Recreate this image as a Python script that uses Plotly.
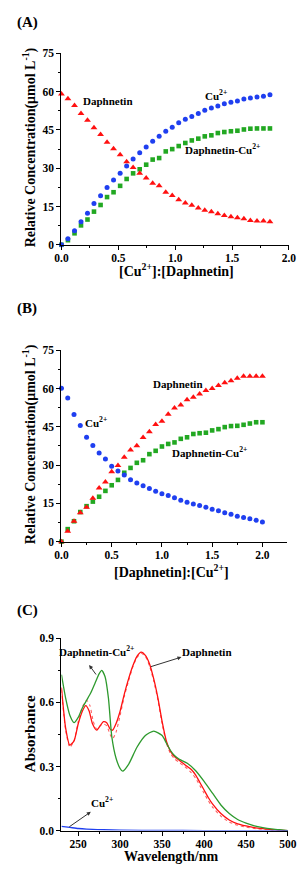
import plotly.graph_objects as go

FONT = "Liberation Serif"
W, H = 307, 873
OFF = 8  # default page (body) margin of the html page
BLUE = "#1f3ff0"
RED = "#ff1010"
GREEN = "#22a822"
LGREEN = "#2e9a2e"

# ---------------- Panel A : [Cu2+]:[Daphnetin] ----------------
ratio_a = [0.000, 0.057, 0.115, 0.172, 0.229, 0.286, 0.344, 0.401, 0.458, 0.516,
           0.573, 0.630, 0.688, 0.745, 0.802, 0.859, 0.917, 0.974, 1.031, 1.089,
           1.146, 1.203, 1.260, 1.318, 1.375, 1.432, 1.490, 1.547, 1.604, 1.661,
           1.719, 1.776, 1.833]
daph_a = [59.1, 57.2, 54.6, 51.5, 48.8, 45.9, 43.2, 40.2, 37.6, 35.3,
          32.5, 30.3, 28.0, 26.2, 24.1, 23.1, 20.6, 19.3, 17.7, 16.4,
          15.5, 14.4, 13.5, 12.9, 12.2, 11.5, 11.0, 10.6, 10.2, 9.5,
          9.3, 9.3, 9.0]
cu_a = [0.0, 2.4, 5.5, 9.0, 12.4, 16.2, 19.2, 22.5, 25.4, 28.0,
        30.9, 33.6, 36.1, 38.3, 40.6, 42.5, 44.5, 46.1, 47.8, 49.2,
        50.3, 51.5, 52.7, 53.6, 54.4, 55.3, 55.9, 56.4, 57.1, 57.5,
        57.9, 58.2, 58.8]
cplx_a = [0.0, 1.8, 4.5, 7.6, 9.9, 13.0, 15.6, 18.7, 20.6, 23.1,
          25.8, 28.0, 29.6, 31.4, 33.4, 34.0, 36.6, 37.5, 38.7, 39.9,
          40.9, 41.6, 42.5, 42.9, 43.8, 44.2, 44.5, 44.7, 45.2, 45.5,
          45.6, 45.6, 45.6]

# ---------------- Panel B : [Daphnetin]:[Cu2+] ----------------
ratio_b = [0.0000, 0.0625, 0.1250, 0.1875, 0.2500, 0.3125, 0.3750, 0.4375, 0.5000, 0.5625,
           0.6250, 0.6875, 0.7500, 0.8125, 0.8750, 0.9375, 1.0000, 1.0625, 1.1250, 1.1875,
           1.2500, 1.3125, 1.3750, 1.4375, 1.5000, 1.5625, 1.6250, 1.6875, 1.7500, 1.8125,
           1.8750, 1.9375, 2.0000]
cu_b = [60.1, 56.3, 49.8, 45.5, 40.9, 37.7, 34.7, 32.4, 29.6, 27.7,
        26.1, 24.3, 23.0, 21.9, 20.8, 19.8, 18.8, 18.1, 17.2, 16.2,
        15.4, 14.8, 14.2, 13.5, 12.7, 12.1, 11.3, 10.7, 10.0, 9.5,
        9.0, 8.4, 7.7]
daph_b = [0.0, 4.1, 8.0, 11.3, 13.5, 17.0, 21.0, 23.4, 27.4, 29.8,
          33.1, 35.9, 37.6, 40.8, 43.1, 45.9, 47.2, 49.9, 52.4, 53.6,
          55.6, 56.6, 57.9, 59.2, 60.0, 61.2, 62.3, 63.1, 64.0, 64.8,
          64.8, 64.8, 64.8]
cplx_b = [0.0, 4.9, 8.0, 11.6, 13.9, 15.7, 17.6, 19.9, 22.1, 24.2,
          27.0, 28.9, 30.9, 31.9, 34.3, 35.6, 37.3, 38.3, 38.9, 40.3,
          40.9, 42.2, 42.5, 42.7, 43.6, 44.1, 44.9, 45.3, 45.4, 45.8,
          46.3, 46.8, 46.8]

# ---------------- Panel C : absorption spectra ----------------
wl_cplx = [230, 235, 240, 245, 250, 255, 260, 265, 270, 275, 278, 282, 286, 290, 295, 300,
           303, 310, 320, 330, 340, 350, 355, 360, 365, 370, 380, 390, 400, 410, 420, 430,
           440, 450, 460, 470, 480, 490, 500]
abs_cplx = [0.73, 0.62, 0.54, 0.505, 0.53, 0.575, 0.61, 0.645, 0.69, 0.735, 0.75, 0.72, 0.62,
            0.44, 0.34, 0.29, 0.278, 0.31, 0.39, 0.445, 0.466, 0.445, 0.41, 0.375, 0.35, 0.335,
            0.315, 0.28, 0.23, 0.175, 0.12, 0.08, 0.052, 0.035, 0.022, 0.014, 0.008, 0.004, 0.0]

wl_daph = [230, 235, 240, 245, 250, 255, 259, 263, 267, 272, 276, 280, 284, 288, 291, 295,
           300, 305, 310, 315, 320, 325, 330, 335, 340, 345, 350, 355, 360, 365, 370, 375,
           380, 385, 390, 395, 400, 405, 410, 420, 430, 440, 450, 460, 470, 480, 490, 500]
abs_daph = [0.67, 0.48, 0.40, 0.42, 0.50, 0.56, 0.585, 0.56, 0.50, 0.47, 0.49, 0.51, 0.505,
            0.475, 0.47, 0.50, 0.56, 0.64, 0.71, 0.77, 0.815, 0.835, 0.82, 0.78, 0.71, 0.62,
            0.51, 0.42, 0.37, 0.345, 0.33, 0.315, 0.30, 0.285, 0.26, 0.225, 0.19, 0.155, 0.125,
            0.08, 0.05, 0.032, 0.022, 0.014, 0.009, 0.005, 0.002, 0.0]

wl_daph2 = [230, 235, 240, 245, 250, 255, 260, 264, 268, 272, 276, 280, 284, 288, 291, 295,
            300, 305, 310, 315, 320, 325, 330, 335, 340, 345, 350, 355, 360, 365, 370, 375,
            380, 385, 390, 395, 400, 405, 410, 420, 430, 440, 450, 460, 470, 480, 490, 500]
abs_daph2 = [0.66, 0.47, 0.39, 0.42, 0.51, 0.58, 0.61, 0.585, 0.51, 0.475, 0.49, 0.50, 0.49,
             0.45, 0.43, 0.46, 0.54, 0.63, 0.70, 0.765, 0.81, 0.83, 0.815, 0.77, 0.70, 0.61,
             0.50, 0.41, 0.36, 0.335, 0.32, 0.305, 0.29, 0.27, 0.245, 0.21, 0.175, 0.14, 0.11,
             0.068, 0.04, 0.025, 0.016, 0.01, 0.006, 0.003, 0.001, 0.0]

wl_cu = [230, 240, 250, 260, 280, 300, 350, 400, 450, 500]
abs_cu = [0.02, 0.015, 0.01, 0.007, 0.004, 0.002, 0.001, 0.0, 0.0, 0.0]

fig = go.Figure()

def mk(x, y, sym, color, size, xa, ya):
    return go.Scatter(x=x, y=y, mode="markers", xaxis=xa, yaxis=ya, cliponaxis=False,
                      marker=dict(symbol=sym, color=color, size=size, line=dict(width=0)),
                      showlegend=False)

fig.add_trace(mk(ratio_a, cplx_a, "square", GREEN, 4.6, "x", "y"))
fig.add_trace(mk(ratio_a, cu_a, "circle", BLUE, 5, "x", "y"))
fig.add_trace(mk(ratio_a, daph_a, "triangle-up", RED, 6, "x", "y"))

fig.add_trace(mk(ratio_b, cplx_b, "square", GREEN, 4.6, "x2", "y2"))
fig.add_trace(mk(ratio_b, cu_b, "circle", BLUE, 5, "x2", "y2"))
fig.add_trace(mk(ratio_b, daph_b, "triangle-up", RED, 6, "x2", "y2"))

def ln(x, y, color, dash, xa="x3", ya="y3", w=1.3):
    return go.Scatter(x=x, y=y, mode="lines", xaxis=xa, yaxis=ya, showlegend=False,
                      line=dict(color=color, width=w, dash=dash, shape="spline", smoothing=0.6))

fig.add_trace(ln(wl_daph2, abs_daph2, "#ff6060", "dot", w=1.1))
fig.add_trace(ln(wl_daph, abs_daph, RED, "solid"))
fig.add_trace(ln(wl_cplx, abs_cplx, LGREEN, "solid"))
fig.add_trace(ln(wl_cu, abs_cu, BLUE, "solid"))

tickfont = dict(family=FONT, size=11.5, color="black", weight="bold")

def axis(domain, anchor, rng, dtick, minor_dtick, fmt, tick0=0, standoff=0):
    return dict(domain=domain, anchor=anchor, range=rng, dtick=dtick, tick0=tick0,
                tickformat=fmt, showline=True, linecolor="black", linewidth=1.3,
                ticks="outside", ticklen=4, tickwidth=1.2, tickcolor="black",
                showgrid=False, zeroline=False, tickfont=tickfont,
                ticklabelstandoff=standoff,
                minor=dict(dtick=minor_dtick, tick0=tick0, ticks="outside", ticklen=2,
                           tickwidth=1, tickcolor="black"))

# reference pixel -> paper coordinate (compensating for the page margin)
def fx(px):
    return (px - OFF) / W

def fy(py):
    return 1 - (py - OFF) / H

fig.update_layout(
    width=W, height=H, margin=dict(l=0, r=0, t=0, b=0),
    paper_bgcolor="white", plot_bgcolor="white",
    font=dict(family=FONT, color="black", weight="bold"),
    xaxis=axis([fx(57), fx(297)], "y", [0, 2.0], 0.5, 0.25, ".1f", standoff=-2),
    yaxis=axis([fy(242), fy(48)], "x", [0, 75], 15, 7.5, "d"),
    xaxis2=axis([fx(57), fx(295)], "y2", [0, 2.245], 0.5, 0.25, ".1f", standoff=-2),
    yaxis2=axis([fy(543), fy(349)], "x2", [0, 75], 15, 7.5, "d"),
    xaxis3=axis([fx(57), fx(296)], "y3", [230, 500], 50, 25, "d", standoff=-2),
    yaxis3=axis([fy(836), fy(641)], "x3", [0, 0.9], 0.3, 0.15, ".1f"),
)

ann = []
def txt(text, x, y, size, xref="paper", yref="paper", angle=0, xanchor="center"):
    ann.append(dict(text=text, x=x, y=y, xref=xref, yref=yref, showarrow=False,
                    textangle=angle, xanchor=xanchor, yanchor="middle",
                    font=dict(family=FONT, size=size, color="black", weight="bold")))

# panel letters (kept fully inside the drawable page)
txt("(A)", fx(OFF), fy(17), 15, xanchor="left")
txt("(B)", fx(OFF), fy(307), 15, xanchor="left")
txt("(C)", fx(OFF), fy(613), 15, xanchor="left")

# axis titles
txt("[Cu<sup>2+</sup>]:[Daphnetin]", fx(178), fy(268), 14)
txt("[Daphnetin]:[Cu<sup>2+</sup>]", fx(173), fy(573), 14)
txt("Wavelength/nm", fx(173), fy(862), 14)
txt("Relative Concentration(μmol L<sup>-1</sup>)", fx(23), fy(143), 14, angle=-90)
txt("Relative Concentration(μmol L<sup>-1</sup>)", fx(23), fy(444), 14, angle=-90)
txt("Absorbance", fx(24), fy(738), 15, angle=-90)

# series labels
txt("Daphnetin", 0.408, 56.4, 11, "x", "y")
txt("Cu<sup>2+</sup>", 1.36, 58.6, 11, "x", "y")
txt("Daphnetin-Cu<sup>2+</sup>", 1.42, 37.5, 11, "x", "y")

txt("Daphnetin", 1.16, 61.8, 11, "x2", "y2")
txt("Cu<sup>2+</sup>", 0.34, 46.8, 11, "x2", "y2")
txt("Daphnetin-Cu<sup>2+</sup>", 1.47, 35.2, 11, "x2", "y2")

txt("Daphnetin-Cu<sup>2+</sup>", 271.5, 0.84, 11, "x3", "y3")
txt("Daphnetin", 404, 0.835, 11, "x3", "y3")
txt("Cu<sup>2+</sup>", 278, 0.134, 11, "x3", "y3")

def arrow(x, y, ax, ay):
    ann.append(dict(x=x, y=y, xref="x3", yref="y3", ax=ax, ay=ay, text="",
                    showarrow=True, arrowhead=2, arrowsize=0.8, arrowwidth=1,
                    arrowcolor="#333333"))

arrow(263, 0.775, 8, 11)
arrow(373, 0.812, -32, 10)
arrow(265, 0.088, -23, 16)

fig.update_layout(annotations=ann)
fig.write_html("out.html")
